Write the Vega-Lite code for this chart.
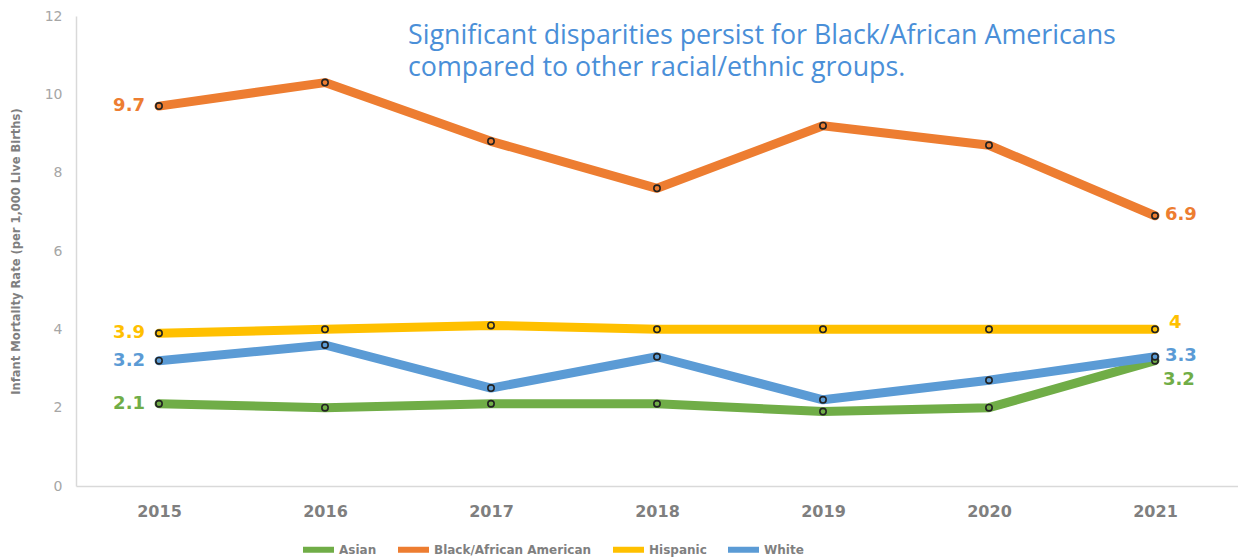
{
  "$schema": "https://vega.github.io/schema/vega-lite/v6.json",
  "width": 1162,
  "height": 470,
  "autosize": {"type": "none"},
  "padding": {"left": 76, "top": 16, "right": 0, "bottom": 71},
  "background": "white",
  "title": {
    "text": ["Significant disparities persist for Black/African Americans", "compared to other racial/ethnic groups."],
    "frame": "group",
    "anchor": "start",
    "orient": "top",
    "baseline": "top",
    "dx": 332,
    "dy": 73,
    "offset": 0,
    "font": "Open Sans",
    "fontSize": 26.8,
    "fontWeight": "normal",
    "color": "#4A8FD8",
    "lineHeight": 32
  },
  "config": {
    "view": {"stroke": null},
    "axis": {"grid": false, "ticks": false, "domainColor": "#D9D9D9", "domainWidth": 1.5}
  },
  "data": {
    "values": [
      {"year": "2015", "group": "Asian", "rate": 2.1},
      {"year": "2016", "group": "Asian", "rate": 2.0},
      {"year": "2017", "group": "Asian", "rate": 2.1},
      {"year": "2018", "group": "Asian", "rate": 2.1},
      {"year": "2019", "group": "Asian", "rate": 1.9},
      {"year": "2020", "group": "Asian", "rate": 2.0},
      {"year": "2021", "group": "Asian", "rate": 3.2},
      {"year": "2015", "group": "Black/African American", "rate": 9.7},
      {"year": "2016", "group": "Black/African American", "rate": 10.3},
      {"year": "2017", "group": "Black/African American", "rate": 8.8},
      {"year": "2018", "group": "Black/African American", "rate": 7.6},
      {"year": "2019", "group": "Black/African American", "rate": 9.2},
      {"year": "2020", "group": "Black/African American", "rate": 8.7},
      {"year": "2021", "group": "Black/African American", "rate": 6.9},
      {"year": "2015", "group": "Hispanic", "rate": 3.9},
      {"year": "2016", "group": "Hispanic", "rate": 4.0},
      {"year": "2017", "group": "Hispanic", "rate": 4.1},
      {"year": "2018", "group": "Hispanic", "rate": 4.0},
      {"year": "2019", "group": "Hispanic", "rate": 4.0},
      {"year": "2020", "group": "Hispanic", "rate": 4.0},
      {"year": "2021", "group": "Hispanic", "rate": 4.0},
      {"year": "2015", "group": "White", "rate": 3.2},
      {"year": "2016", "group": "White", "rate": 3.6},
      {"year": "2017", "group": "White", "rate": 2.5},
      {"year": "2018", "group": "White", "rate": 3.3},
      {"year": "2019", "group": "White", "rate": 2.2},
      {"year": "2020", "group": "White", "rate": 2.7},
      {"year": "2021", "group": "White", "rate": 3.3}
    ]
  },
  "encoding": {
    "x": {
      "field": "year", "type": "ordinal",
      "scale": {"type": "point", "padding": 0.5},
      "axis": {"title": null, "labelAngle": 0, "labelFont": "DejaVu Sans", "labelFontWeight": "bold", "labelFontSize": 16, "labelColor": "#7F7F7F", "labelPadding": 17}
    },
    "y": {
      "field": "rate", "type": "quantitative",
      "scale": {"domain": [0, 12], "nice": false},
      "axis": {"values": [0, 2, 4, 6, 8, 10, 12], "title": "Infant Mortality Rate (per 1,000 Live Births)", "titleFont": "DejaVu Sans Condensed, Liberation Sans, sans-serif", "titleFontSize": 12.8, "titleFontWeight": "bold", "titleColor": "#7F7F7F", "titlePadding": 22, "labelFont": "DejaVu Sans", "labelFontSize": 14, "labelColor": "#A6A6A6", "labelPadding": 14}
    },
    "color": {
      "field": "group", "type": "nominal",
      "scale": {"domain": ["Asian", "Black/African American", "Hispanic", "White"], "range": ["#70AD47", "#ED7D31", "#FFC000", "#5B9BD5"]},
      "legend": {"title": null, "orient": "none", "legendX": 224, "legendY": 515, "direction": "horizontal", "symbolType": "stroke", "symbolStrokeWidth": 6, "symbolSize": 961, "labelFont": "DejaVu Sans", "labelFontWeight": "bold", "labelFontSize": 12, "labelColor": "#7F7F7F", "labelLimit": 0, "columnPadding": 9, "symbolOffset": 0, "labelOffset": 2}
    }
  },
  "layer": [
    {"mark": {"type": "line", "strokeWidth": 9, "strokeCap": "round", "strokeJoin": "round"}},
    {"mark": {"type": "point", "filled": true, "size": 40, "stroke": "#222222", "strokeWidth": 1.6, "opacity": 1}},
    {
      "transform": [{"filter": "datum.year == '2015'"}],
      "mark": {"type": "text", "align": "right", "baseline": "middle", "dx": -14, "font": "DejaVu Sans", "fontWeight": "bold", "fontSize": 18},
      "encoding": {"text": {"field": "rate", "type": "quantitative", "format": ".1f"}}
    },
    {
      "transform": [{"filter": "datum.year == '2021' && datum.group != 'Asian' && datum.group != 'Hispanic'"}],
      "mark": {"type": "text", "align": "left", "baseline": "middle", "dx": 10, "dy": -1, "font": "DejaVu Sans", "fontWeight": "bold", "fontSize": 18},
      "encoding": {"text": {"field": "rate", "type": "quantitative", "format": ".1f"}}
    },
    {
      "transform": [{"filter": "datum.year == '2021' && datum.group == 'Hispanic'"}],
      "mark": {"type": "text", "align": "left", "baseline": "middle", "dx": 14, "dy": -6, "font": "DejaVu Sans", "fontWeight": "bold", "fontSize": 18},
      "encoding": {"text": {"field": "rate", "type": "quantitative", "format": "d"}}
    },
    {
      "transform": [{"filter": "datum.year == '2021' && datum.group == 'Asian'"}],
      "mark": {"type": "text", "align": "left", "baseline": "middle", "dx": 8, "dy": 19, "font": "DejaVu Sans", "fontWeight": "bold", "fontSize": 18},
      "encoding": {"text": {"field": "rate", "type": "quantitative", "format": ".1f"}}
    }
  ]
}
